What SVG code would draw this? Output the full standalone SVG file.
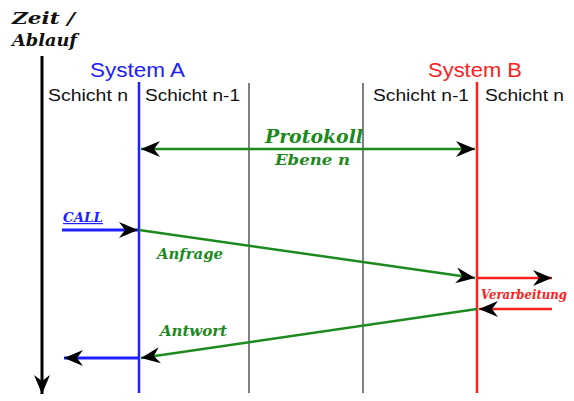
<svg xmlns="http://www.w3.org/2000/svg" width="574" height="401" viewBox="0 0 574 401">
<style>
.sans{font-family:"Liberation Sans",Arial,sans-serif}
.ital{font-family:"DejaVu Serif","Liberation Serif",serif;font-style:italic;font-weight:bold}
.lbl{font-size:16px;fill:#111}
.sys{font-size:20px}
.g{fill:#1e8a1e}
</style>
<defs>
<marker id="ah" markerUnits="userSpaceOnUse" viewBox="-20 -10 21 20" refX="0" refY="0" markerWidth="21" markerHeight="20" orient="auto">
<path d="M0,0 L-19,-8 L-13,0 L-19,8 Z" fill="#000"/>
</marker>
<marker id="ahs" markerUnits="userSpaceOnUse" viewBox="-1 -10 21 20" refX="0" refY="0" markerWidth="21" markerHeight="20" orient="auto">
<path d="M0,0 L19,-8 L13,0 L19,8 Z" fill="#000"/>
</marker>
</defs>
<rect width="574" height="401" fill="#fff"/>
<g id="axis">
<text class="ital" x="12" y="24" font-size="17.5" fill="#111" textLength="63" lengthAdjust="spacingAndGlyphs">Zeit /</text>
<text class="ital" x="12" y="46" font-size="17.5" fill="#111" textLength="65" lengthAdjust="spacingAndGlyphs">Ablauf</text>
<line x1="42" y1="56" x2="42" y2="394" stroke="#000" stroke-width="3" marker-end="url(#ah)"/>
</g>
<g id="systemA">
<text class="sans sys" x="90" y="77" fill="#2020ff" textLength="95" lengthAdjust="spacingAndGlyphs">System A</text>
<text class="sans lbl" x="48" y="101" textLength="80" lengthAdjust="spacingAndGlyphs">Schicht n</text>
<text class="sans lbl" x="145" y="101" textLength="95" lengthAdjust="spacingAndGlyphs">Schicht n-1</text>
<line x1="139" y1="82" x2="139" y2="393" stroke="#2020ff" stroke-width="2.5"/>
<line x1="249" y1="83" x2="249" y2="393" stroke="#808080" stroke-width="2"/>
</g>
<g id="systemB">
<text class="sans sys" x="428" y="77" fill="#ff2020" textLength="94" lengthAdjust="spacingAndGlyphs">System B</text>
<text class="sans lbl" x="373" y="101" textLength="96" lengthAdjust="spacingAndGlyphs">Schicht n-1</text>
<text class="sans lbl" x="485" y="101" textLength="79" lengthAdjust="spacingAndGlyphs">Schicht n</text>
<line x1="363" y1="83" x2="363" y2="393" stroke="#808080" stroke-width="2"/>
<line x1="477" y1="82" x2="477" y2="393" stroke="#ff2020" stroke-width="2.5"/>
</g>
<g id="connectors">
<line x1="141" y1="149" x2="475" y2="149" stroke="#1e8a1e" stroke-width="2.5" marker-start="url(#ahs)" marker-end="url(#ah)"/>
<line x1="62" y1="230" x2="138" y2="230" stroke="#2020ff" stroke-width="3" marker-end="url(#ah)"/>
<line x1="139" y1="230" x2="475" y2="278" stroke="#1e8a1e" stroke-width="2.5" marker-end="url(#ah)"/>
<line x1="478" y1="278" x2="552" y2="278" stroke="#ff2020" stroke-width="2.5" marker-end="url(#ah)"/>
<line x1="552" y1="309" x2="479" y2="309" stroke="#ff2020" stroke-width="2.5" marker-end="url(#ah)"/>
<line x1="477" y1="309" x2="141" y2="358" stroke="#1e8a1e" stroke-width="2.5" marker-end="url(#ah)"/>
<line x1="139" y1="358" x2="64" y2="358" stroke="#2020ff" stroke-width="3" marker-end="url(#ah)"/>
</g>
<g id="labels">
<text class="ital g" x="265" y="143" font-size="18.5" textLength="98" lengthAdjust="spacingAndGlyphs">Protokoll</text>
<text class="ital g" x="275" y="165" font-size="15" textLength="75" lengthAdjust="spacingAndGlyphs">Ebene n</text>
<text class="ital" x="63" y="222" font-size="12" fill="#2020ff" text-decoration="underline" textLength="40" lengthAdjust="spacingAndGlyphs">CALL</text>
<text class="ital g" x="157" y="259" font-size="15.5" textLength="66" lengthAdjust="spacingAndGlyphs">Anfrage</text>
<text class="ital" x="481" y="299" font-size="12.5" fill="#ff2020" textLength="86" lengthAdjust="spacingAndGlyphs">Verarbeitung</text>
<text class="ital g" x="160" y="336" font-size="15.5" textLength="67" lengthAdjust="spacingAndGlyphs">Antwort</text>
</g>
</svg>
